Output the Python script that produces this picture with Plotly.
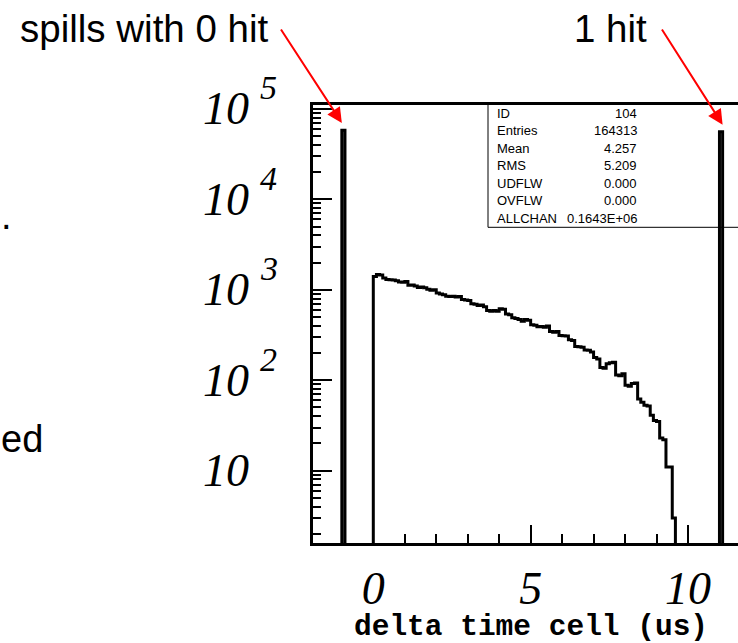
import numpy as np
import plotly.graph_objects as go

# ---- histogram contents (PAW histogram 104) ----
bin_width = 0.1
hist_start = 0.0
hist_counts = [
    1400, 1470, 1460, 1350, 1300, 1290, 1280, 1260, 1220, 1210,
    1230, 1120, 1130, 1100, 1060, 1070, 1050, 1010, 990, 1000,
    920, 900, 880, 850, 840, 850, 830, 840, 780, 770,
    760, 700, 690, 670, 680, 650, 590, 580, 590, 580,
    615, 610, 540, 530, 490, 480, 470, 450, 470, 460,
    410, 405, 390, 392, 385, 398, 345, 340, 345, 312,
    310, 308, 280, 275, 236, 234, 232, 216, 214, 205,
    178, 172, 138, 136, 152, 156, 158, 114, 112, 118,
    88, 86, 92, 93, 62, 57, 53, 52, 41, 36,
    35, 23, 22, 11, 11, 3,
]
spill_bins = [-1.0, 11.0]          # left edge of the special bins
spill_counts = [58100, 55600]
spill_labels = ["spills with 0 hit", "1 hit"]

stat_names = ["ID", "Entries", "Mean", "RMS", "UDFLW", "OVFLW", "ALLCHAN"]
stat_values = ["104", "164313", "4.257", "5.209", "0.000", "0.000", "0.1643E+06"]

x_tick_vals = [0, 5, 10]
y_decades = [1, 2, 3, 4, 5]
x_title = "delta time cell (us)"

# ---- canvas geometry ----
W, H = 738, 643
M_L, M_R, M_T, M_B = 313, 0, 105, 100
PW, PH = W - M_L - M_R, H - M_T - M_B
X_RANGE = [-1.916, 11.589]
Y_RANGE = [0.201, 5.042]


def pxx(px):
    return (px - M_L) / PW


def pxy(py):
    return (H - M_B - py) / PH


# ---- build the full binning from -2 to 12 ----
edges = np.round(np.arange(-2.0, 12.0 + 1e-9, bin_width), 1)
counts = np.zeros(len(edges) - 1)
i0 = int(round((hist_start - edges[0]) / bin_width))
counts[i0:i0 + len(hist_counts)] = hist_counts
for xb, c in zip(spill_bins, spill_counts):
    counts[int(round((xb - edges[0]) / bin_width))] = c

floor = 1e-2  # empty bins drop below the visible log range
y_plot = np.where(counts > 0, counts, floor)
x_step = np.append(edges[:-1], edges[-1])
y_step = np.append(y_plot, y_plot[-1])

fig = go.Figure()
fig.add_trace(go.Scatter(
    x=x_step, y=y_step, mode="lines", line_shape="hv",
    line=dict(color="black", width=3), hoverinfo="skip", showlegend=False,
))

annotations = []

# y tick labels: 10, 10^2 ... 10^5 in italic serif
serif = "Liberation Serif"
for d in y_decades:
    annotations.append(dict(
        x=pxx(202), y=d, xref="paper", yref="y", text="10",
        xanchor="left", yanchor="middle", showarrow=False, borderpad=0,
        font=dict(family=serif, size=46, style="italic", color="black"),
    ))
    if d > 1:
        annotations.append(dict(
            x=pxx(259), y=d, xref="paper", yref="y", text=str(d),
            xanchor="left", yanchor="middle", yshift=21, showarrow=False,
            borderpad=0,
            font=dict(family=serif, size=34, style="italic", color="black"),
        ))

# x axis title
annotations.append(dict(
    x=pxx(530.5), y=pxy(627), xref="paper", yref="paper", text=x_title,
    xanchor="center", yanchor="middle", showarrow=False, borderpad=0,
    font=dict(family="Liberation Mono", size=29.5, weight="bold",
              color="black"),
))

# statistics box
row_y = [113.3 + 17.5 * i for i in range(len(stat_names))]
for name, val, ry in zip(stat_names, stat_values, row_y):
    annotations.append(dict(
        x=pxx(496), y=pxy(ry), xref="paper", yref="paper", text=name,
        xanchor="left", yanchor="middle", showarrow=False, borderpad=0,
        font=dict(family="Liberation Sans", size=13, color="black"),
    ))
    annotations.append(dict(
        x=pxx(637.5), y=pxy(ry), xref="paper", yref="paper", text=val,
        xanchor="right", yanchor="middle", showarrow=False, borderpad=0,
        font=dict(family="Liberation Sans", size=13, color="black"),
    ))

# labels and red arrows pointing at the special bins
sans = "Liberation Sans"
label_right = [270, 648]
arrow_tail = [(280, 28), (661, 28)]
for lab, xr, (tx, ty), xb, c in zip(spill_labels, label_right, arrow_tail,
                                     spill_bins, spill_counts):
    annotations.append(dict(
        x=pxx(xr), y=pxy(29), xref="paper", yref="paper", text=lab,
        xanchor="right", yanchor="middle", showarrow=False, borderpad=0,
        font=dict(family=sans, size=38.5, color="black"),
    ))
    tip_x = xb if xb < 0 else xb + 0.1
    tip_y = np.log10(c) + 0.08
    tip_px = M_L + (tip_x - X_RANGE[0]) / (X_RANGE[1] - X_RANGE[0]) * PW
    tip_py = H - M_B - (tip_y - Y_RANGE[0]) / (Y_RANGE[1] - Y_RANGE[0]) * PH
    annotations.append(dict(
        x=tip_x, y=tip_y, xref="x", yref="y", text="",
        showarrow=True, arrowhead=2, arrowsize=1.5, arrowwidth=2,
        arrowcolor="#ff0000", ax=tx - tip_px, ay=ty - tip_py,
        axref="pixel", ayref="pixel", standoff=0,
    ))

# fragments of slide text at the left edge
annotations.append(dict(
    x=pxx(0), y=pxy(216), xref="paper", yref="paper", text=".",
    xanchor="left", yanchor="middle", showarrow=False, borderpad=0,
    font=dict(family=sans, size=38, color="black"),
))
annotations.append(dict(
    x=pxx(0), y=pxy(439), xref="paper", yref="paper", text="ed",
    xanchor="left", yanchor="middle", showarrow=False, borderpad=0,
    font=dict(family=sans, size=38, color="black"),
))

shapes = [dict(
    type="rect", xref="paper", yref="paper",
    x0=pxx(488), x1=pxx(820), y0=pxy(227.3), y1=pxy(103.5),
    line=dict(color="black", width=1), fillcolor="rgba(0,0,0,0)",
)]

fig.update_layout(
    width=W, height=H,
    margin=dict(l=M_L, r=M_R, t=M_T, b=M_B, pad=0),
    paper_bgcolor="white", plot_bgcolor="white",
    showlegend=False,
    annotations=annotations,
    shapes=shapes,
    xaxis=dict(
        range=X_RANGE, showgrid=False, zeroline=False,
        showline=True, linewidth=3, linecolor="black", mirror=True,
        ticks="inside", ticklen=18, tickwidth=2, tickcolor="black",
        tickvals=x_tick_vals, ticktext=[str(v) for v in x_tick_vals],
        tickfont=dict(family=serif, size=46, style="italic", color="black"),
        ticklabelstandoff=3,
        minor=dict(ticks="inside", ticklen=9, tickwidth=2, tickcolor="black",
                   dtick=1, tick0=0, showgrid=False),
    ),
    yaxis=dict(
        type="log", range=Y_RANGE, showgrid=False, zeroline=False,
        showline=True, linewidth=3, linecolor="black", mirror=False,
        ticks="inside", ticklen=19, tickwidth=2, tickcolor="black",
        dtick=1, showticklabels=False,
        minor=dict(ticks="inside", ticklen=8, tickwidth=2, tickcolor="black",
                   dtick="D1", showgrid=False),
    ),
)

fig.write_html("out.html")
